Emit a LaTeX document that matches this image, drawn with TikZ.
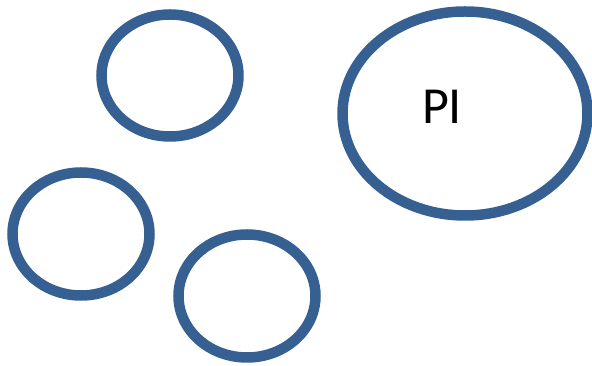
\documentclass[tikz,border=0pt]{standalone}
\usepackage{fontspec}
\setmainfont{Carlito}
\definecolor{ringblue}{HTML}{376092}
\begin{document}
\begin{tikzpicture}[x=1pt,y=1pt,
  ring/.style={draw=ringblue,line width=10.5pt}]
\useasboundingbox (0,0) rectangle (592,366);
\draw[ring] (170,290.5) ellipse [x radius=68.5,y radius=61];
\draw[ring] (465,252.5) ellipse [x radius=122.5,y radius=102];
\draw[ring] (81,132) ellipse [x radius=68.5,y radius=61.5];
\draw[ring] (247,70) ellipse [x radius=68.5,y radius=61.5];
\node (pi) at (442,259) {\fontsize{52}{60}\selectfont PI};
\end{tikzpicture}
\end{document}
